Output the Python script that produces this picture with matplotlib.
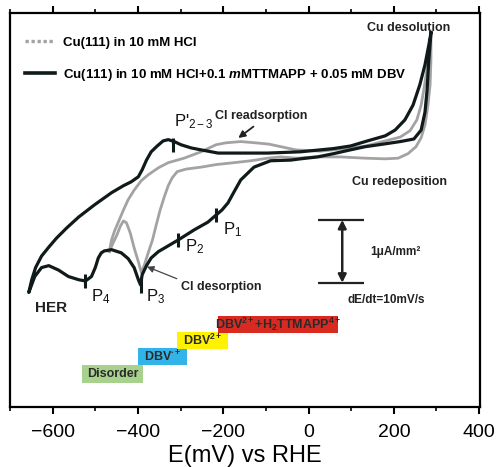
import matplotlib
matplotlib.use("Agg")
import matplotlib.pyplot as plt
from matplotlib.lines import Line2D
import numpy as np

plt.rcParams['font.family'] = ['Liberation Sans', 'DejaVu Sans']
plt.rcParams['mathtext.fontset'] = 'custom'
plt.rcParams['mathtext.rm'] = 'Liberation Sans'
plt.rcParams['mathtext.it'] = 'Liberation Sans:italic:bold'
plt.rcParams['mathtext.bf'] = 'Liberation Sans:bold'
plt.rcParams['mathtext.default'] = 'regular'

# ---- data: Cu(111) in 10 mM HCl + TTMAPP + DBV (black) ----
blk_E = [287, 282, 278, 273, 264, 247, 215, 175, 133, 98, 58, 21, -19, -42, -89, -128,
         -159, -175, -189, -203, -217, -236, -268, -306, -334, -352, -369, -380, -390, -394,
         -399, -409, -423, -439, -462, -479, -486, -493, -500, -509, -523, -539, -563, -586,
         -609, -626, -642, -656,
         -649, -640, -626, -609, -591, -567, -539, -502, -462, -434, -416, -399, -390, -380,
         -369, -355, -341, -329, -315, -299, -275, -252, -212, -175, -96, -19, 58, 98, 138,
         180, 203, 226, 245, 261, 273, 282, 287]
blk_I = [1.83, 1.41, 0.94, 0.59, 0.31, 0.17, 0.13, 0.09, 0.05, 0.00, -0.06, -0.11, -0.14,
         -0.16, -0.17, -0.27, -0.47, -0.66, -0.83, -0.94, -1.02, -1.13, -1.25, -1.41, -1.52,
         -1.59, -1.69, -1.81, -1.95, -2.11,
         -2.03, -1.84, -1.70, -1.61, -1.56, -1.58, -1.61, -1.69, -1.84, -1.98, -2.05, -2.03,
         -1.98, -1.88, -1.81, -1.84, -1.98, -2.23,
         -2.03, -1.84, -1.66, -1.52, -1.38, -1.22, -1.05, -0.86, -0.67, -0.56, -0.50, -0.42,
         -0.31, -0.16, -0.03, 0.06, 0.14, 0.16, 0.13, 0.08, 0.03, 0.00, -0.05, -0.05, -0.05,
         -0.03, 0.02, 0.06, 0.14, 0.22, 0.31, 0.47, 0.70, 1.02, 1.33, 1.64, 1.83]

# ---- data: Cu(111) in 10 mM HCl (grey) ----
gry_E = [-467, -462, -455, -446, -434, -423, -409, -392, -376, -352, -329, -292, -252, -233,
         -217, -194, -159, -124, -93, -65, -30, 28, 86, 133, 180, 215, 238, 254, 264, 271,
         278, 282, 287,
         287, 285, 280, 273, 264, 252, 233, 210, 180, 133, 75, 16, -26, -65, -96, -135, -175,
         -217, -252, -287, -308, -320, -329, -338, -348, -357, -366, -376, -385, -392,
         -399, -409, -418, -427, -434, -441, -450, -460, -467]
gry_I = [-1.59, -1.41, -1.27, -1.13, -0.94, -0.78, -0.63, -0.48, -0.39, -0.28, -0.20, -0.13,
         -0.03, 0.03, 0.08, 0.11, 0.13, 0.11, 0.09, 0.05, 0.00, -0.02, 0.02, 0.06, 0.14,
         0.20, 0.30, 0.47, 0.70, 0.97, 1.28, 1.56, 1.78,
         1.41, 1.02, 0.70, 0.39, 0.19, 0.05, -0.06, -0.13, -0.14, -0.13, -0.11, -0.11, -0.13,
         -0.11, -0.13, -0.17, -0.20, -0.23, -0.27, -0.30, -0.34, -0.44, -0.56, -0.73, -0.94,
         -1.17, -1.41, -1.61, -1.80, -1.92,
         -1.75, -1.53, -1.30, -1.14, -1.11, -1.19, -1.34, -1.48, -1.59]

# ---- peak markers ----
peak_labels = ['P$_1$', 'P$_2$', 'P$_3$', 'P$_4$', "P$'_{2-3}$"]
peak_E = [-217, -306, -394, -523, -317]
peak_I = [-1.02, -1.41, -2.13, -2.05, 0.07]
peak_lab_E = [-201, -289, -380, -511, -315]
peak_lab_I = [-1.25, -1.52, -2.30, -2.30, 0.44]

# ---- adlayer phases ----
phase_labels = ['Disorder', 'DBV$^{\\bullet+}$', 'DBV$^{2+}$', 'DBV$^{2+}$+H$_2$TTMAPP$^{4+}$']
phase_E0 = [-532, -401, -308, -212]
phase_E1 = [-387, -285, -189, 70]
phase_I = [-3.50, -3.23, -2.98, -2.73]
phase_colors = ['#a9d18e', '#33b4e8', '#fff200', '#d92a22']

fig = plt.figure(figsize=(4.96, 4.67), dpi=100)
ax = fig.add_axes([10/496, 1-407/467, 470/496, 394/467])

ax.plot(gry_E, gry_I, color='#a3a3a3', lw=2.0, solid_joinstyle='round', zorder=2)
ax.plot(blk_E, blk_I, color='#111a1a', lw=2.3, solid_joinstyle='round', zorder=3)

ax.vlines(peak_E, np.array(peak_I) - 0.11, np.array(peak_I) + 0.11, color='#111a1a', lw=2.2, zorder=4)
for lab, e, i in zip(peak_labels, peak_lab_E, peak_lab_I):
    ax.text(e, i, lab, fontsize=12, ha='left', va='center', color='#111')

# phases
ax.barh(phase_I, np.array(phase_E1) - np.array(phase_E0), left=phase_E0, height=0.28,
        color=phase_colors, zorder=2)
for lab, e0, e1, i in zip(phase_labels, phase_E0, phase_E1, phase_I):
    ax.text((e0 + e1) / 2, i, lab, fontsize=9, fontweight='bold', ha='center', va='center',
            color='#2a2a2a', zorder=3)

# annotations
tkw = dict(fontsize=9, fontweight='bold', color='#222')
ax.text(138, 1.91, 'Cu desolution', ha='left', va='center', **tkw)
ax.text(103, -0.50, 'Cu redeposition', ha='left', va='center', **tkw)
ax.text(-219, 0.53, 'Cl readsorption', ha='left', va='center', **tkw)
ax.annotate('', xy=(-170, 0.16), xytext=(-124, 0.39),
            arrowprops=dict(arrowstyle='-|>', color='#222', lw=1.3, mutation_scale=10))
ax.text(-299, -2.14, 'Cl desorption', ha='left', va='center', **tkw)
ax.annotate('', xy=(-385, -1.81), xytext=(-303, -2.03),
            arrowprops=dict(arrowstyle='-|>', color='#444', lw=0.9, mutation_scale=10))
ax.text(-642, -2.48, 'HER', ha='left', va='center', fontsize=11, fontweight='bold', color='#222')

# scale bar
ax.hlines([-1.094, -2.078], 23, 131, color='#222', lw=1.6)
ax.annotate('', xy=(79, -1.094), xytext=(79, -2.078),
            arrowprops=dict(arrowstyle='<|-|>', color='#222', lw=1.8, mutation_scale=12,
                            shrinkA=0, shrinkB=0))
ax.text(145, -1.59, '1μA/mm²', ha='left', va='center', fontsize=8.5, fontweight='bold', color='#222')
ax.text(91, -2.34, 'dE/dt=10mV/s', ha='left', va='center', fontsize=8.5, fontweight='bold', color='#222')

# legend
handles = [Line2D([], [], color='#a3a3a3', lw=2.4, ls=(0, (1, 0.8))),
           Line2D([], [], color='#111a1a', lw=2.6)]
labels = ['Cu(111) in 10 mM HCl',
          'Cu(111) in 10 mM HCl+0.1 $\\mathit{m}$MTTMAPP + 0.05 mM DBV']
leg = ax.legend(handles, labels, loc='upper left', bbox_to_anchor=(0.032, 0.94),
                frameon=False, borderpad=0, borderaxespad=0, handlelength=2.3,
                handletextpad=0.6, labelspacing=1.38, prop=dict(size=9.5, weight='bold'))

ax.set_xlim(-697, 402)
ax.set_ylim(-4.02, 2.14)
ax.set_xticks([-600, -400, -200, 0, 200, 400])
ax.set_xticks(np.arange(-700, 401, 100), minor=True)
ax.set_yticks([])
ax.tick_params(axis='x', which='both', bottom=True, top=True, direction='out', labelsize=14, pad=7)
ax.tick_params(axis='x', which='major', length=5, width=1.5)
ax.tick_params(axis='x', which='minor', length=3, width=1.2)
for sp in ax.spines.values():
    sp.set_linewidth(1.6)
ax.set_xlabel('E(mV) vs RHE', fontsize=17, labelpad=3)

fig.savefig('out.png', dpi=100)
